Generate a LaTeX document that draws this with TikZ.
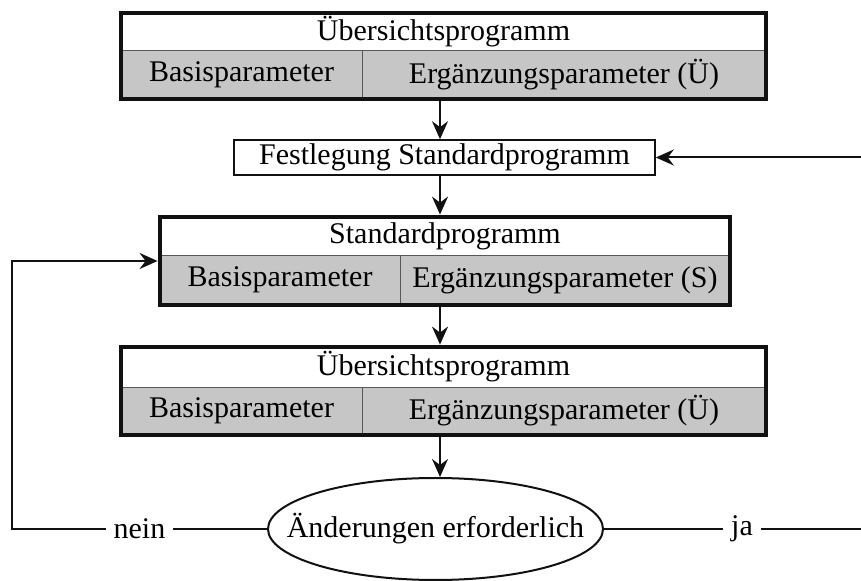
\documentclass[tikz,border=0pt]{standalone}
\usepackage{fontspec}
\setmainfont{Liberation Serif}
\usetikzlibrary{arrows.meta,fit,positioning,shapes.geometric}
\definecolor{Ink}{HTML}{111111}
\definecolor{Shade}{HTML}{C6C6C6}
\tikzset{
  titlecell/.style={
    draw=Ink!70, thin, fill=white, inner sep=0pt
  },
  paramcell/.style={
    draw=Ink!70, thin, fill=Shade, inner sep=0pt
  },
  frame/.style={draw=Ink, line width=2pt, inner sep=0pt},
  stepbox/.style={
    draw=Ink, line width=0.8pt, fill=white,
    minimum width=210.5pt, minimum height=17.5pt, inner sep=0pt
  },
  decision/.style={
    ellipse, draw=Ink, line width=1pt, fill=white,
    minimum width=167.5pt, minimum height=51pt, inner sep=0pt
  },
  flow/.style={-{Stealth[length=9pt,width=8pt,inset=3pt]}, line width=1pt, draw=Ink},
  answer/.style={fill=white, inner sep=4pt}
}

\begin{document}
\begin{tikzpicture}[x=0.5pt,y=-0.5pt,font=\fontsize{15}{18}\selectfont]
    \useasboundingbox (0,0) rectangle (861,581);
    \clip (0,0) rectangle (861,581);
    \coordinate (axis) at (440,0);
    \coordinate (lft) at (12,0);
    \coordinate (rgt) at (880,0);
    % first overview
    \node[titlecell,minimum width=322.5pt,minimum height=18.5pt] (ueb1t) at (443.5,31.5) {Übersichtsprogramm};
    \node[paramcell,minimum width=120.5pt,minimum height=24.5pt] (ueb1b) at (241.5,74.5) {Basisparameter};
    \node[paramcell,minimum width=202pt,minimum height=24.5pt] (ueb1e) at (564,74.5) {Ergänzungsparameter (Ü)};
    \node[frame,fit=(ueb1t)(ueb1b)(ueb1e)] (ueb1) {};
    % standard program
    \node[stepbox] (fest) at (444.5,157.5) {Festlegung Standardprogramm};
    \node[titlecell,minimum width=285pt,minimum height=19pt] (stdt) at (445,236) {Standardprogramm};
    \node[paramcell,minimum width=120pt,minimum height=25pt] (stdb) at (280,280) {Basisparameter};
    \node[paramcell,minimum width=165pt,minimum height=25pt] (stde) at (565,280) {Ergänzungsparameter (S)};
    \node[frame,fit=(stdt)(stdb)(stde)] (std) {};
    % second overview
    \node[titlecell,minimum width=322.5pt,minimum height=20pt] (ueb2t) at (443.5,367) {Übersichtsprogramm};
    \node[paramcell,minimum width=120.5pt,minimum height=24pt] (ueb2b) at (241.5,411) {Basisparameter};
    \node[paramcell,minimum width=202pt,minimum height=24pt] (ueb2e) at (564,411) {Ergänzungsparameter (Ü)};
    \node[frame,fit=(ueb2t)(ueb2b)(ueb2e)] (ueb2) {};
    \node[decision,label=center:{Änderungen erforderlich}] (chg) at (435.5,529) {};
    \draw[flow] (ueb1.south -| axis)--(fest.north -| axis);
    \draw[flow] (fest.south -| axis)--(std.north -| axis);
    \draw[flow] (std.south -| axis)--(ueb2.north -| axis);
    \draw[flow] (ueb2.south -| axis)--(chg.north -| axis);
    \draw[flow] (chg.west)--node[answer]{nein}(chg.west -| lft) |- (std.west);
    \draw[flow] (chg.east)--node[answer]{ja}(chg.east -| rgt) |- (fest.east);
  \end{tikzpicture}
\end{document}
